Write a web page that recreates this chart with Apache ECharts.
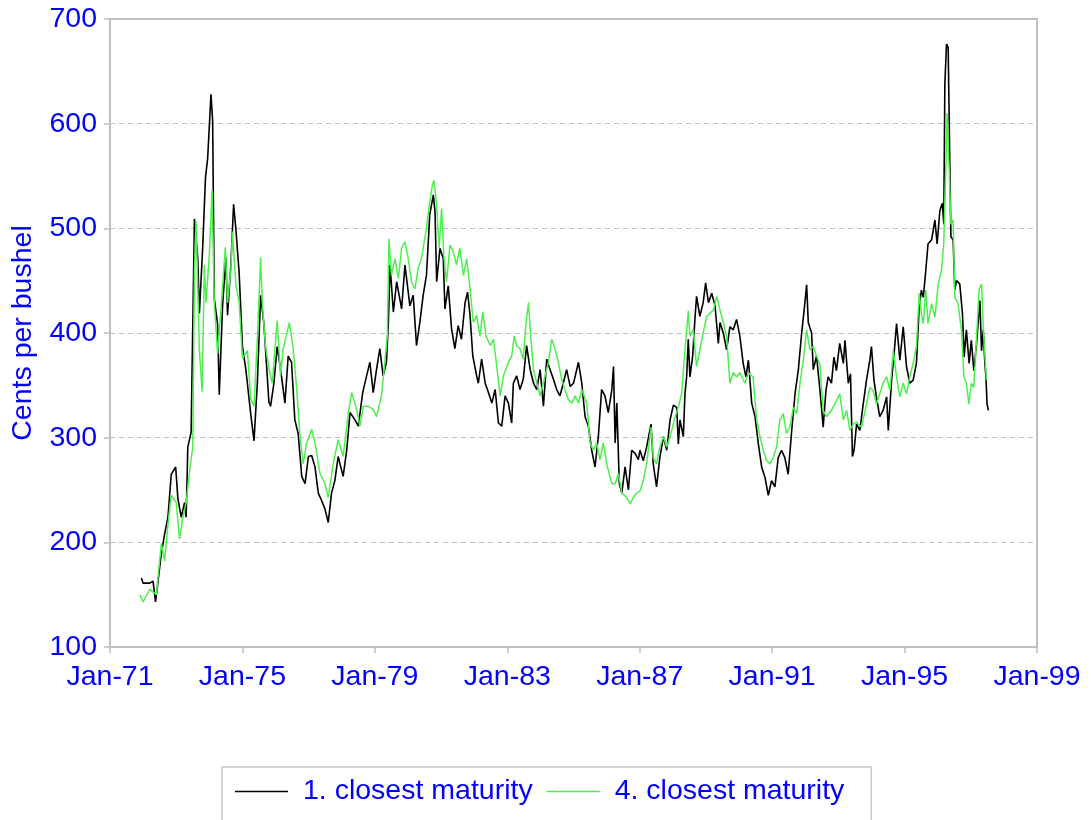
<!DOCTYPE html>
<html>
<head>
<meta charset="utf-8">
<script src="https://cdn.jsdelivr.net/npm/echarts@6/dist/echarts.min.js"></script>
<style>
  html, body { margin: 0; padding: 0; background: #fff; }
  #chart { width: 1091px; height: 820px; }
</style>
</head>
<body>
<div id="chart"></div>
<script>
// x = months since Jan-71, y = cents per bushel
const xTickLabels = ['Jan-71', 'Jan-75', 'Jan-79', 'Jan-83', 'Jan-87', 'Jan-91', 'Jan-95', 'Jan-99']
const seriesNames = ['1. closest maturity', '4. closest maturity']

const closest1 = [
  [11.4,166],[12,161],[14.4,161],[15.6,163],[16.5,143],[17,144],[18.6,189],[19.8,208],[21,224],[22.2,265],
  [23.8,272],[24.6,242],[25.8,224],[27,238],[27.6,224],[28.2,291],[29.4,305],[30.6,509],[31.8,472],[32.4,419],
  [33.6,482],[34.6,548],[35.4,567],[36.6,628],[37.2,603],[37.8,433],[39,408],[39.6,341],[40.8,426],[42,472],
  [42.6,417],[43.8,465],[44.8,523],[45.6,500],[46.8,458],[48,387],[49.2,366],[51,323],[52.2,297],[53.4,352],
  [54.6,436],[55.8,408],[57.6,334],[58.2,330],[59.4,352],[60.6,387],[61.8,366],[63.4,333],[64.6,378],[65.8,372],
  [67,317],[68.2,304],[69.5,263],[70.7,256],[71.9,282],[73.1,283],[74.3,272],[75.5,247],[76.7,240],[77.9,232],
  [79.1,219],[80.3,247],[81.5,259],[82.7,282],[84.5,263],[85.8,288],[87,324],[88.8,317],[90,311],[91.6,343],
  [93,359],[94.2,372],[95.4,343],[96.6,365],[97.8,385],[99,359],[100.2,372],[100.9,410],[101.5,465],[102.7,420],
  [103.9,449],[105.7,423],[106.9,465],[108.7,426],[109.9,436],[111.1,388],[112.3,410],[113.5,436],[114.7,455],[115.9,513],
  [117.2,532],[117.8,516],[118.4,449],[119.6,481],[120.8,471],[121.4,423],[122.6,445],[123.8,404],[125,385],[126.2,407],
  [127.4,394],[128.7,429],[129.6,439],[130.5,417],[131.5,378],[132.9,359],[133.5,352],[134.7,375],[136,352],[137.2,343],
  [138.4,333],[139.6,346],[140.8,314],[142,311],[143.2,340],[144.4,333],[145.6,314],[146.2,352],[147.4,359],[148.6,346],
  [149.8,356],[151,388],[152.3,365],[153.5,352],[154.7,346],[155.9,365],[157.1,330],[158.3,375],[159.5,365],[160.7,356],
  [161.9,346],[163.1,340],[164.3,352],[165.5,365],[166.8,349],[168,352],[169.8,372],[171,352],[172.2,320],[173.4,311],
  [174.6,288],[175.8,272],[177,301],[178.2,346],[179.4,340],[180.6,324],[181.9,346],[182.5,368],[183.1,295],[183.7,333],
  [184.6,256],[185.5,247],[186.7,272],[187.9,250],[189.1,288],[190.3,285],[191.5,279],[192.1,288],[193.3,278],[194.5,291],
  [196.1,313],[196.9,275],[198.1,253],[199.3,281],[200.6,301],[201.8,288],[203,317],[204.2,331],[205.4,329],[206,294],
  [206.6,317],[207.8,301],[208.4,342],[209,358],[209.6,394],[210.2,358],[211.2,378],[212,413],[212.6,435],[213.8,416],
  [215,429],[215.9,448],[216.9,429],[218.1,438],[219.3,426],[220.5,390],[221.1,410],[222.3,400],[223.5,384],[224.7,406],
  [225.9,403],[227.1,413],[228.3,397],[229.5,371],[230.5,358],[231.4,374],[232.6,333],[233.8,320],[235,294],[236.2,272],
  [237.4,262],[238.6,245],[239.8,259],[241,253],[242.2,281],[243.4,288],[244.6,281],[245.8,265],[247,304],[248.3,342],
  [249.5,365],[250.7,400],[251.6,422],[252.5,446],[253.1,410],[254.3,400],[254.9,365],[256.1,378],[257.3,346],[258.5,310],
  [259.5,345],[260.3,358],[261.5,352],[262.4,377],[263.3,364],[264.5,390],[265.8,371],[266.4,393],[267.6,352],[268.4,361],
  [269.1,282],[269.7,288],[270.6,313],[271.8,307],[273,332],[274.2,355],[275.4,374],[276,387],[276.9,355],[277.8,339],
  [279,320],[280.2,326],[281.5,339],[282.1,307],[283.3,355],[284.1,377],[285.1,409],[286.3,374],[287.5,406],[288.7,368],
  [289.9,352],[291.1,355],[292.3,371],[293.3,425],[294.1,441],[294.8,434],[295.7,460],[296.5,485],[297.8,489],[299,508],
  [299.8,485],[300.8,517],[301.7,524],[302.2,504],[302.6,638],[303.2,676],[303.8,673],[304.4,562],[304.8,492],[305.6,489],
  [306.2,441],[306.8,450],[308,447],[309,418],[309.6,377],[310.4,403],[311.4,371],[312.2,393],[313.1,364],[314.1,390],
  [315.3,431],[315.9,383],[316.5,403],[317.1,371],[317.5,358],[317.9,332],[318.4,326]
]

const closest4 = [
  [10.8,150],[12,143],[14.4,155],[16.8,150],[18.6,199],[19.8,182],[21,217],[22.2,245],[24,238],[25.2,203],
  [26.4,224],[27.6,238],[28.8,267],[30,291],[30.6,458],[31.2,507],[32.4,383],[33.4,344],[34.2,465],[34.8,429],
  [36,475],[37,536],[37.8,429],[39,380],[40.2,422],[41.8,482],[42.6,429],[43.8,461],[44.4,497],[45.6,447],
  [46.8,429],[48,376],[49.8,383],[51,337],[52.2,330],[53.4,394],[54.6,472],[55.2,429],[56.4,387],[57.6,366],
  [58.8,352],[60.6,412],[61.8,359],[62.8,385],[65,410],[66.4,385],[67.6,349],[68.8,304],[70,275],[71.3,295],
  [73.1,308],[74.3,295],[76.1,266],[77.9,256],[79.1,243],[80.9,275],[82.7,298],[84.5,282],[86.4,324],[87.6,343],
  [89.4,327],[90.6,311],[91.8,330],[93.6,330],[95.4,327],[96.6,320],[98.4,340],[99.6,372],[100.5,397],[101.1,490],
  [102,455],[103.3,471],[104.5,452],[105.7,481],[106.9,487],[108.1,471],[109.3,449],[110.5,442],[111.7,462],[112.9,471],
  [114.7,500],[115.7,522],[116.9,542],[117.4,546],[118.4,522],[119.3,481],[120.2,519],[121,474],[122,449],[123.2,484],
  [124.4,478],[125.6,465],[126.8,481],[128.1,455],[129.3,471],[130.5,442],[131.7,410],[132.9,417],[134.1,397],[135.1,420],
  [136.3,397],[137.8,388],[139,394],[140.2,368],[141.4,340],[142.6,359],[144.4,372],[145.6,378],[146.5,397],[147.4,388],
  [148.6,385],[149.8,375],[150.8,410],[151.7,429],[152.5,397],[153.5,365],[154.7,352],[155.9,340],[157.7,359],[158.9,372],
  [160.1,394],[161.3,385],[162.5,372],[163.7,356],[164.9,346],[166.2,336],[167.4,333],[168.6,340],[169.8,333],[171,346],
  [172.8,333],[174,295],[175.2,288],[176.4,295],[177.6,279],[178.8,295],[180,275],[181.9,256],[183.1,256],[184.3,266],
  [185.5,247],[187.3,243],[188.5,237],[189.7,243],[190.9,247],[192.1,249],[193.3,259],[194.5,275],[196.1,310],[196.9,281],
  [198.1,275],[199.3,291],[200.6,301],[201.8,291],[203.6,307],[204.8,320],[206,329],[207.2,342],[208.4,384],[209.6,421],
  [210.2,397],[211.4,403],[212.6,368],[213.8,384],[215,400],[216.3,416],[217.5,419],[218.7,422],[219.9,435],[221.1,422],
  [222.3,410],[223.5,397],[224.7,352],[225.9,362],[227.1,358],[228.3,362],[230.1,352],[231.4,362],[233.1,358],[234.4,317],
  [235.6,301],[236.8,288],[238,278],[239.2,275],[240.4,281],[241.6,291],[242.8,317],[244,323],[245.2,304],[246.4,310],
  [247.7,329],[248.9,323],[250.1,352],[251.3,374],[252.5,403],[253.7,384],[254.9,387],[256.1,378],[257.3,370],[258.5,326],
  [259.7,320],[261.5,326],[262.7,332],[264.5,342],[265.8,317],[267,326],[268.2,307],[269.4,313],[270.6,315],[272.4,310],
  [274.2,332],[275.4,348],[276.6,345],[277.8,332],[279,342],[280.2,352],[281.5,358],[282.7,345],[283.9,383],[285.1,358],
  [286.3,339],[287.5,352],[288.7,342],[289.9,358],[291.1,371],[292.3,387],[293.3,438],[294.1,418],[294.8,409],[295.7,441],
  [296.5,409],[297.8,428],[299,415],[300.2,447],[301.4,460],[302.2,485],[303,562],[303.4,610],[304.2,555],[304.8,504],
  [305.6,508],[306.2,434],[307.4,428],[308.6,403],[309.5,358],[310.4,352],[311.3,332],[312.2,352],[313.1,348],[314.1,396],
  [315,441],[315.9,447],[316.7,396],[317.7,355]
]

const font = "'Liberation Sans', Arial, sans-serif"
const blue = '#0000ff'
const axisGray = '#c0c0c0'

const chart = echarts.init(document.getElementById('chart'))
chart.setOption({
  animation: false,
  backgroundColor: '#fff',
  textStyle: { fontFamily: font },
  grid: { left: 110, right: 54, top: 19, bottom: 173, show: true, borderColor: axisGray, borderWidth: 2 },
  legend: {
    left: 222,
    top: 767,
    orient: 'horizontal',
    icon: 'rect',
    itemWidth: 53,
    itemHeight: 1.5,
    itemGap: 14,
    padding: [10, 27, 30, 13],
    borderColor: '#c8c8c8',
    borderWidth: 1.5,
    textStyle: { color: blue, fontSize: 28.5, fontFamily: font, padding: [0, 0, 0, 10] },
    data: seriesNames,
  },
  xAxis: {
    type: 'value',
    min: 0,
    max: 336,
    interval: 48,
    axisLine: { lineStyle: { color: axisGray, width: 2 } },
    axisTick: { show: true, length: 6, lineStyle: { color: axisGray, width: 1.5 } },
    axisLabel: {
      color: blue,
      fontSize: 28.5,
      fontFamily: font,
      margin: 16,
      formatter: (value) => xTickLabels[Math.round(value / 48)],
    },
    splitLine: { show: false },
  },
  yAxis: {
    type: 'value',
    min: 100,
    max: 700,
    interval: 100,
    name: 'Cents per bushel',
    nameLocation: 'middle',
    nameGap: 72,
    nameTextStyle: { color: blue, fontSize: 28.5, fontFamily: font },
    axisLine: { show: true, lineStyle: { color: axisGray, width: 2 } },
    axisTick: { show: true, length: 6, lineStyle: { color: axisGray, width: 1.5 } },
    axisLabel: { color: blue, fontSize: 28.5, fontFamily: font, margin: 13 },
    splitLine: { show: true, lineStyle: { color: axisGray, type: [5, 4], width: 1.2 } },
  },
  series: [
    {
      name: seriesNames[0],
      type: 'line',
      data: closest1,
      symbol: 'none',
      lineStyle: { color: '#000000', width: 1.6 },
      itemStyle: { color: '#000000' },
    },
    {
      name: seriesNames[1],
      type: 'line',
      data: closest4,
      symbol: 'none',
      lineStyle: { color: '#4cf04c', width: 1.5 },
      itemStyle: { color: '#4cf04c' },
    },
  ],
})
</script>
</body>
</html>
